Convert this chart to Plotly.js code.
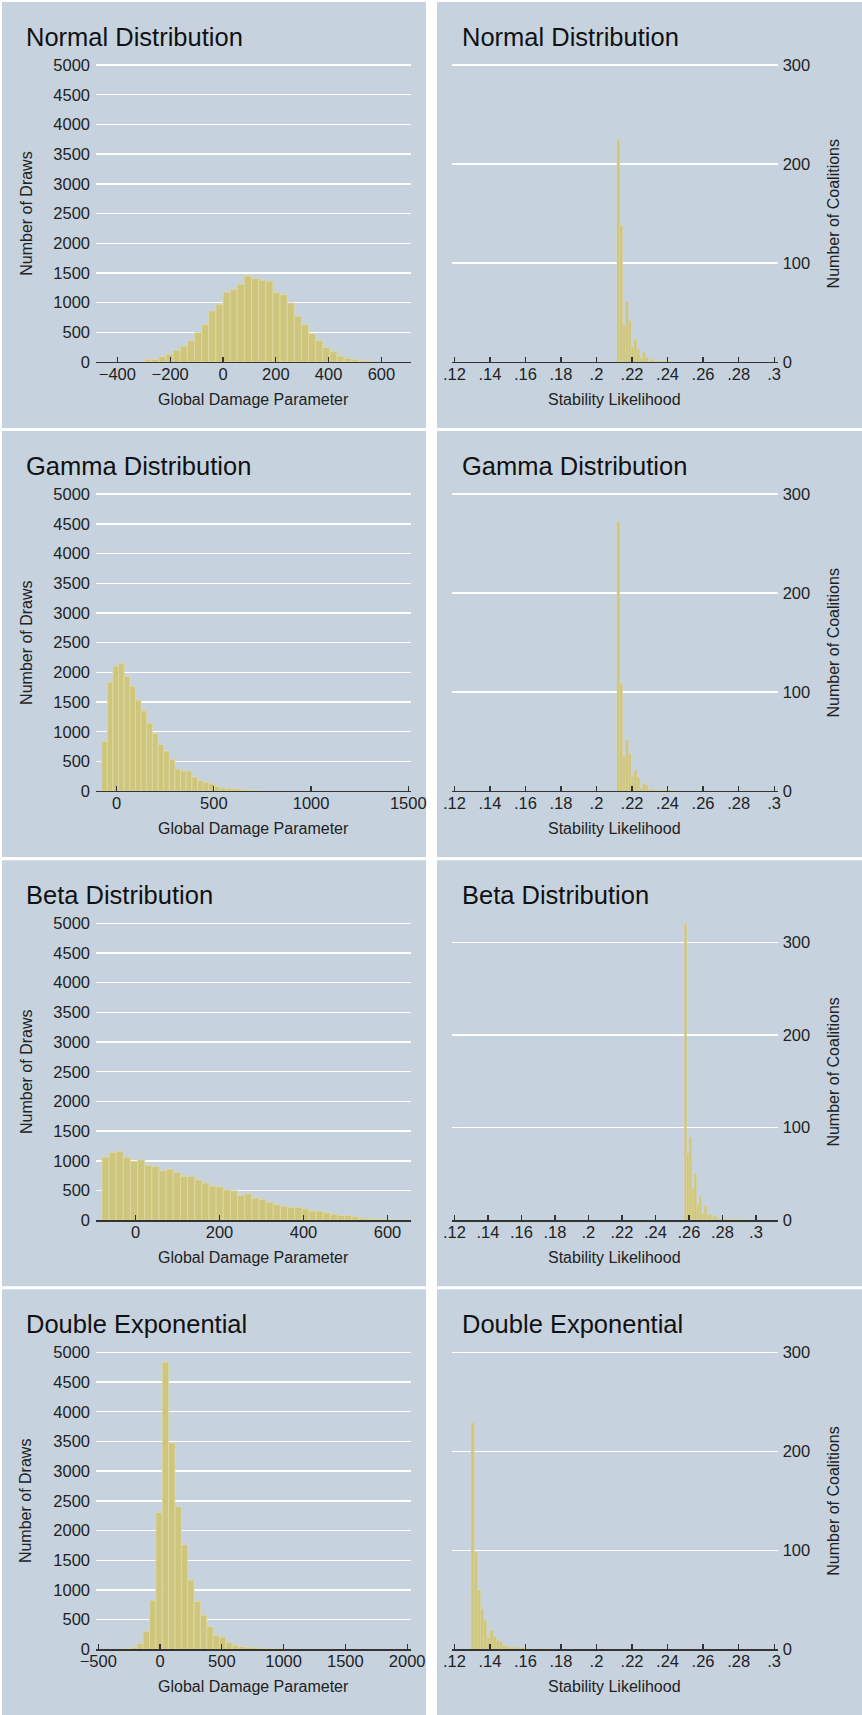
<!DOCTYPE html>
<html><head><meta charset="utf-8">
<script src="https://cdn.plot.ly/plotly-3.0.1.min.js"></script>
<style>html,body{margin:0;padding:0;background:#fff;}#chart{width:862px;height:1715px;}</style>
</head><body><div id="chart"></div>
<script>
// ---------- DATA ----------
const panelTitles = ["Normal Distribution", "Gamma Distribution", "Beta Distribution", "Double Exponential"];

// Left column: histograms of the Global Damage Parameter (Number of Draws)
const damageBinStart = [-297, -77, -80, -291];
const damageBinWidth = [27, 29, 17, 51.5];
const normalDraws = [40,45,90,130,197,264,360,495,630,860,972,1175,1220,1310,1450,1405,1377,1360,1170,1135,995,770,630,478,360,242,180,101,62,40,22,17];
const gammaDraws = [837,1832,2102,2152,1928,1765,1534,1354,1146,967,787,674,534,371,337,337,236,174,152,124,79,56,39,39,34,17,11,11];
const betaDraws = [1062,1141,1158,1062,994,1017,927,904,836,859,808,740,740,678,627,576,559,514,497,418,446,373,350,305,260,237,220,215,192,153,153,124,102,79,79,56,34,23,17,11,11];
const doubleExpDraws = [11,28,96,298,828,2303,4836,3474,2404,1762,1165,805,574,383,231,208,118,68,45,34,28,17,11,6,17];
const damageTickVals = [[-400,-200,0,200,400,600],[0,500,1000,1500],[0,200,400,600],[-500,0,500,1000,1500,2000]];
const damageTickText = [["\u2212400","\u2212200","0","200","400","600"],["0","500","1000","1500"],["0","200","400","600"],["\u2212500","0","500","1000","1500","2000"]];
const damageRanges = [[-481,712],[-106,1514],[-94,656],[-518,2031]];
const drawsTicks = [0,500,1000,1500,2000,2500,3000,3500,4000,4500,5000];
const drawsMax = 5000;

// Right column: histograms of Stability Likelihood (Number of Coalitions)
const stabBinStart = [0.2115, 0.2115, 0.2572, 0.1294];
const stabBinWidth = [0.0016, 0.0016, 0.00148, 0.00177];
const normalCoal = [224,138,37,61,42,15,23,13,4,10,5,1,3,1,1,1,1,1,1];
const gammaCoal = [272,108,35,52,38,15,21,14,3,8,6,1,2,1,1,1,1,0,1,1];
const betaCoal = [321,72,90,34,50,17,26,7,15,6,6,3,5,2,1,1,1,1,1,1,0,1,1,0,1];
const doubleExpCoal = [229,98,60,41,29,12,19,13,9,8,4,3,2,2,2,2,2,1,0,0,0,0,1,1];
const stabTickVals = [0.12,0.14,0.16,0.18,0.2,0.22,0.24,0.26,0.28,0.3];
const stabTickText = [".12",".14",".16",".18",".2",".22",".24",".26",".28",".3"];
const stabRanges = [[0.1185,0.302],[0.1185,0.302],[0.1184,0.313],[0.1185,0.302]];
const coalMax = [300,300,321,300];
const coalTicks = [0,100,200,300];

const drawsSeries = [normalDraws, gammaDraws, betaDraws, doubleExpDraws];
const coalSeries = [normalCoal, gammaCoal, betaCoal, doubleExpCoal];

// ---------- STYLE / LAYOUT ----------
const W = 862, H = 1715;
const BG = "rgb(198,211,223)";
const BAR = "rgb(207,198,126)";
const BARLINE = "rgb(224,217,163)";
const FONT = "Liberation Sans, Arial, Helvetica, sans-serif";
const TICKSIZE = 16.5, AXTITLESIZE = 16, TITLESIZE = 25.5;
const rowTop = r => 2 + 429.1 * r;
const px = v => v / W;
const py = v => 1 - v / H;

const traces = [];
const layout = {
  width: W, height: H,
  margin: {l:0, r:0, t:0, b:0},
  paper_bgcolor: "#ffffff",
  plot_bgcolor: "rgba(0,0,0,0)",
  showlegend: false,
  bargap: 0,
  font: {family: FONT, size: TICKSIZE, color: "#222"},
  shapes: [],
  annotations: []
};

function centers(start, w, n) {
  const c = [];
  for (let i = 0; i < n; i++) c.push(start + (i + 0.5) * w);
  return c;
}

for (let r = 0; r < 4; r++) {
  const T = rowTop(r);
  // panel backgrounds
  layout.shapes.push({type:"rect", xref:"paper", yref:"paper", x0:px(2), x1:px(426), y0:py(T+426), y1:py(T), fillcolor:BG, line:{width:0}, layer:"below"});
  layout.shapes.push({type:"rect", xref:"paper", yref:"paper", x0:px(437), x1:px(862), y0:py(T+426), y1:py(T), fillcolor:BG, line:{width:0}, layer:"below"});

  for (let c = 0; c < 2; c++) {
    const idx = r * 2 + c + 1;
    const xa = idx === 1 ? "xaxis" : "xaxis" + idx;
    const ya = idx === 1 ? "yaxis" : "yaxis" + idx;
    const xr = idx === 1 ? "x" : "x" + idx;
    const yr = idx === 1 ? "y" : "y" + idx;
    const left = c === 0;
    const vals = left ? drawsSeries[r] : coalSeries[r];
    const w = left ? damageBinWidth[r] : stabBinWidth[r];
    const s = left ? damageBinStart[r] : stabBinStart[r];
    traces.push({
      type: "bar", x: centers(s, w, vals.length), y: vals, width: w,
      xaxis: xr, yaxis: yr,
      marker: {color: BAR, line: {color: BARLINE, width: left ? 0.8 : 0.4}},
      hoverinfo: "x+y"
    });
    const xDom = left ? [px(96), px(411)] : [px(451.7), px(777.7)];
    const yMax = left ? drawsMax : coalMax[r];
    // leave ~2px above the top tick so its gridline is drawn
    const topPad = (yMax % 100 === 0) ? 1.007 : 1.0;
    const plotTop = T + 63 - (topPad > 1 ? 2 : 0);
    layout[xa] = {
      domain: xDom, anchor: yr,
      range: left ? damageRanges[r] : stabRanges[r],
      tickmode: "array",
      tickvals: left ? damageTickVals[r] : stabTickVals,
      ticktext: left ? damageTickText[r] : stabTickText,
      ticks: "inside", ticklen: 5, tickwidth: 1.3, tickcolor: "#333",
      showline: true, linecolor: "#333", linewidth: 1.3,
      showgrid: false, zeroline: false,
      ticklabelstandoff: -3,
      tickfont: {family: FONT, size: TICKSIZE, color: "#222"},
      fixedrange: true
    };
    layout[ya] = {
      domain: [py(T + 360), py(plotTop)], anchor: xr,
      side: left ? "left" : "right",
      range: [0, yMax * topPad],
      tickmode: "array",
      tickvals: left ? drawsTicks : coalTicks,
      ticks: "", showline: false, zeroline: false,
      showgrid: true, gridcolor: "#ffffff", gridwidth: 1.4,
      ticklabelstandoff: left ? 5 : 4,
      tickfont: {family: FONT, size: TICKSIZE, color: "#222"},
      fixedrange: true
    };
    // panel title
    layout.annotations.push({
      xref: "paper", yref: "paper", x: px(left ? 23.5 : 459.5), y: py(T + 34.7),
      xanchor: "left", yanchor: "middle", showarrow: false,
      text: panelTitles[r], font: {family: FONT, size: TITLESIZE, color: "#111"}
    });
    // x-axis title
    layout.annotations.push({
      xref: "paper", yref: "paper", x: left ? px(253.5) : px(614.7), y: py(T + 397.6),
      xanchor: "center", yanchor: "middle", showarrow: false,
      text: left ? "Global Damage Parameter" : "Stability Likelihood",
      font: {family: FONT, size: AXTITLESIZE, color: "#222"}
    });
    // y-axis title
    layout.annotations.push({
      xref: "paper", yref: "paper", x: left ? px(26.3) : px(833.9), y: py(T + 211.5),
      xanchor: "center", yanchor: "middle", showarrow: false, textangle: -90,
      text: left ? "Number of Draws" : "Number of Coalitions",
      font: {family: FONT, size: AXTITLESIZE, color: "#222"}
    });
  }
}

Plotly.newPlot("chart", traces, layout, {staticPlot: true, displayModeBar: false});
</script>
</body></html>
